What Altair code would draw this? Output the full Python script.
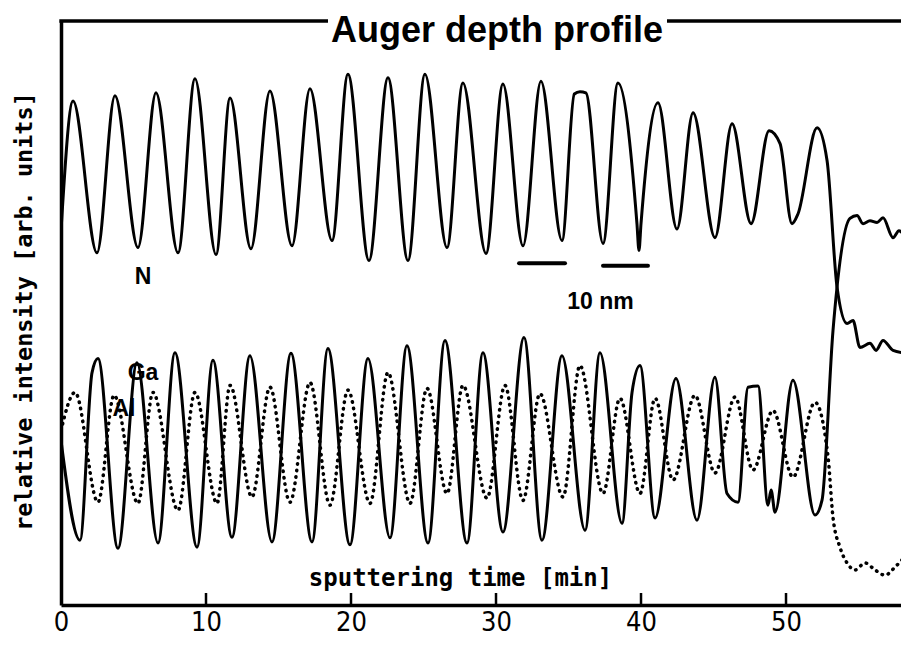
import altair as alt
import pandas as pd

# ---- data (time in min, intensity in arb. units 0-100) ----
n_time = [0.0, 0.83, 2.48, 3.72, 5.31, 6.55, 8.07, 9.24, 10.69, 11.66, 13.10, 14.41, 15.93, 17.17,
          18.69, 19.79, 21.24, 22.55, 23.93, 25.10, 26.62, 27.72, 29.31, 30.48, 31.86, 33.10, 34.55,
          35.40, 35.79, 36.20, 37.38, 38.41, 39.72, 39.86, 40.0, 41.17, 42.48, 43.59, 45.10, 46.28,
          47.59, 48.83, 49.59, 50.41, 50.83, 52.14, 52.83, 53.52, 54.21, 54.62, 55.10, 55.79, 56.21,
          56.69, 57.38, 58.41]
n_int = [64.1, 86.3, 60.3, 87.2, 61.2, 87.7, 60.3, 90.1, 60.0, 86.8, 61.0, 88.0, 61.5, 88.4,
         62.4, 90.9, 59.0, 90.3, 59.0, 90.9, 61.2, 89.4, 60.2, 89.2, 61.5, 89.7, 62.4,
         87.5, 87.9, 87.7, 61.9, 89.4, 65.3, 60.7, 65.3, 86.0, 64.4, 84.3, 62.9, 82.4,
         65.3, 81.2, 79.0, 65.3, 67.0, 81.7, 76.1, 54.4, 48.2, 48.7, 44.1, 44.8, 43.6,
         45.3, 43.6, 43.1]

ga_time = [0.0, 1.31, 2.14, 2.55, 3.93, 5.24, 6.69, 7.86, 9.38, 10.48, 11.79, 13.03, 14.55, 15.86,
           17.31, 18.41, 19.93, 21.17, 22.69, 23.86, 25.31, 26.48, 28.0, 29.1, 30.48, 31.93, 33.17,
           34.55, 36.14, 37.17, 38.69, 39.38, 39.93, 40.97, 42.41, 43.86, 45.10, 45.93, 46.69, 47.38,
           48.07, 48.76, 48.97, 49.24, 50.48, 52.0, 52.48, 53.24, 54.41, 54.9, 55.31, 55.79, 56.28,
           56.69, 57.38, 57.79, 58.41]
ga_int = [28.2, 11.1, 39.8, 42.2, 9.7, 41.5, 10.6, 43.2, 9.9, 41.9, 11.6, 42.7, 10.8, 43.1,
          10.8, 43.9, 10.3, 42.2, 11.5, 44.4, 10.6, 45.3, 10.6, 43.2, 12.5, 45.8, 11.1,
          42.7, 12.8, 43.2, 14.0, 36.4, 41.0, 14.9, 38.8, 14.5, 39.0, 19.1, 17.6, 37.3,
          37.5, 17.1, 19.7, 15.9, 38.5, 15.4, 17.9, 47.0, 66.2, 66.7, 65.3, 65.8, 65.5,
          66.3, 62.9, 64.1, 62.1]

al_time = [0.0, 0.97, 2.55, 3.66, 5.31, 6.34, 8.07, 9.24, 10.76, 11.66, 13.17, 14.41, 15.79, 17.17,
           18.55, 19.79, 21.31, 22.55, 24.07, 25.24, 26.62, 27.72, 29.38, 30.62, 31.86, 33.03, 34.62,
           35.79, 37.38, 38.55, 39.93, 40.97, 42.21, 43.72, 45.10, 46.48, 47.72, 49.10, 50.48, 52.0,
           52.9, 53.24, 53.72, 54.21, 54.76, 55.45, 56.14, 56.83, 57.52, 58.41]
al_int = [29.9, 36.4, 17.6, 35.9, 17.4, 36.4, 16.2, 36.4, 17.4, 37.6, 18.5, 37.3, 17.6, 38.1,
          17.1, 36.8, 17.4, 39.8, 17.4, 37.1, 19.1, 37.6, 18.3, 37.6, 17.9, 36.2, 18.5,
          41.0, 19.1, 35.4, 19.1, 35.4, 21.4, 35.9, 22.6, 35.6, 23.1, 33.3, 21.9, 34.7,
          25.3, 15.0, 9.9, 7.2, 6.0, 7.2, 6.0, 5.1, 6.5, 8.9]

tick_values = [0, 10, 20, 30, 40, 50]
inner_ticks = [10, 20, 30, 40, 50]

label_text = ["N", "Ga", "Al", "10 nm"]
label_time = [5.66, 5.66, 4.34, 37.2]
label_int = [56.1, 39.8, 33.5, 51.8]

bar_start = [31.59, 37.38]
bar_end = [34.76, 40.48]
bar_int = [58.5, 58.1]

X_MAX = 57.93
W, H = 840, 584

lines = pd.concat([
    pd.DataFrame({"t": n_time, "I": n_int, "series": "N"}),
    pd.DataFrame({"t": ga_time, "I": ga_int, "series": "Ga"}),
])
al_df = pd.DataFrame({"t": al_time, "I": al_int})
labels_df = pd.DataFrame({"t": label_time, "I": label_int, "text": label_text})
bars_df = pd.DataFrame({"t": bar_start, "t2": bar_end, "I": bar_int})
ticks_df = pd.DataFrame({"t": inner_ticks})

mono = "DejaVu Sans Mono"
xscale = alt.Scale(domain=[0, X_MAX], nice=False, zero=False)
yscale = alt.Scale(domain=[0, 100], nice=False, zero=False)

x_axis = alt.Axis(values=tick_values, ticks=False, grid=False, domainWidth=3.5, domainColor="black",
                  labelFont="DejaVu Sans Condensed, DejaVu Sans, sans-serif", labelFontSize=27,
                  labelColor="black", labelFlush=False, labelPadding=4,
                  title="sputtering time [min]", titleFont=mono, titleFontSize=24,
                  titleFontWeight="bold", titleColor="black", titleX=399, titleY=-27,
                  titleBaseline="middle")
y_axis = alt.Axis(labels=False, ticks=False, grid=False, domainWidth=3.5, domainColor="black",
                  title="relative intensity [arb. units]", titleFont=mono, titleFontSize=23.5,
                  titleFontWeight="bold", titleColor="black", titleX=-37, titleY=290,
                  titleAngle=270, titleBaseline="middle")

solid = alt.Chart(lines).mark_line(color="black", strokeWidth=3, clip=True, strokeJoin="round",
                                   interpolate="monotone").encode(
    x=alt.X("t:Q", scale=xscale, axis=x_axis),
    y=alt.Y("I:Q", scale=yscale, axis=y_axis),
    detail="series:N",
    order="t:Q",
)

dotted = alt.Chart(al_df).mark_line(color="black", strokeWidth=3.5, strokeDash=[0.5, 6],
                                    strokeCap="round", clip=True, interpolate="monotone").encode(
    x="t:Q", y="I:Q", order="t:Q"
)

inner = alt.Chart(ticks_df).mark_rule(color="black", strokeWidth=2.5).encode(
    x="t:Q", y=alt.value(H), y2=alt.value(H - 12)
)

one = alt.Data(values=[{"k": 1}])
top_left = alt.Chart(one).mark_rule(color="black", strokeWidth=3.5).encode(
    x=alt.value(-1.7), x2=alt.value(267), y=alt.value(0)
)
top_right = alt.Chart(one).mark_rule(color="black", strokeWidth=3.5).encode(
    x=alt.value(606), x2=alt.value(W), y=alt.value(0)
)
title = alt.Chart(one).mark_text(text="Auger depth profile", font="Liberation Sans", fontWeight="bold",
                                 fontSize=36, color="black", baseline="middle", align="center").encode(
    x=alt.value(436), y=alt.value(10)
)

labels = alt.Chart(labels_df).mark_text(font="Liberation Sans", fontWeight="bold", fontSize=23,
                                        color="black", baseline="middle", align="center").encode(
    x="t:Q", y="I:Q", text="text:N"
)
bars = alt.Chart(bars_df).mark_rule(color="black", strokeWidth=4, strokeCap="round").encode(
    x="t:Q", x2="t2:Q", y="I:Q"
)

chart = alt.layer(solid, dotted, inner, top_left, top_right, title, labels, bars).properties(
    width=W, height=H,
    padding={"left": 53, "top": 13, "right": 0, "bottom": 32},
    autosize=alt.AutoSizeParams(type="none"),
    background="white",
).configure_view(stroke=None)

chart.save("out.html", embed_options={"renderer": "svg", "actions": False})
